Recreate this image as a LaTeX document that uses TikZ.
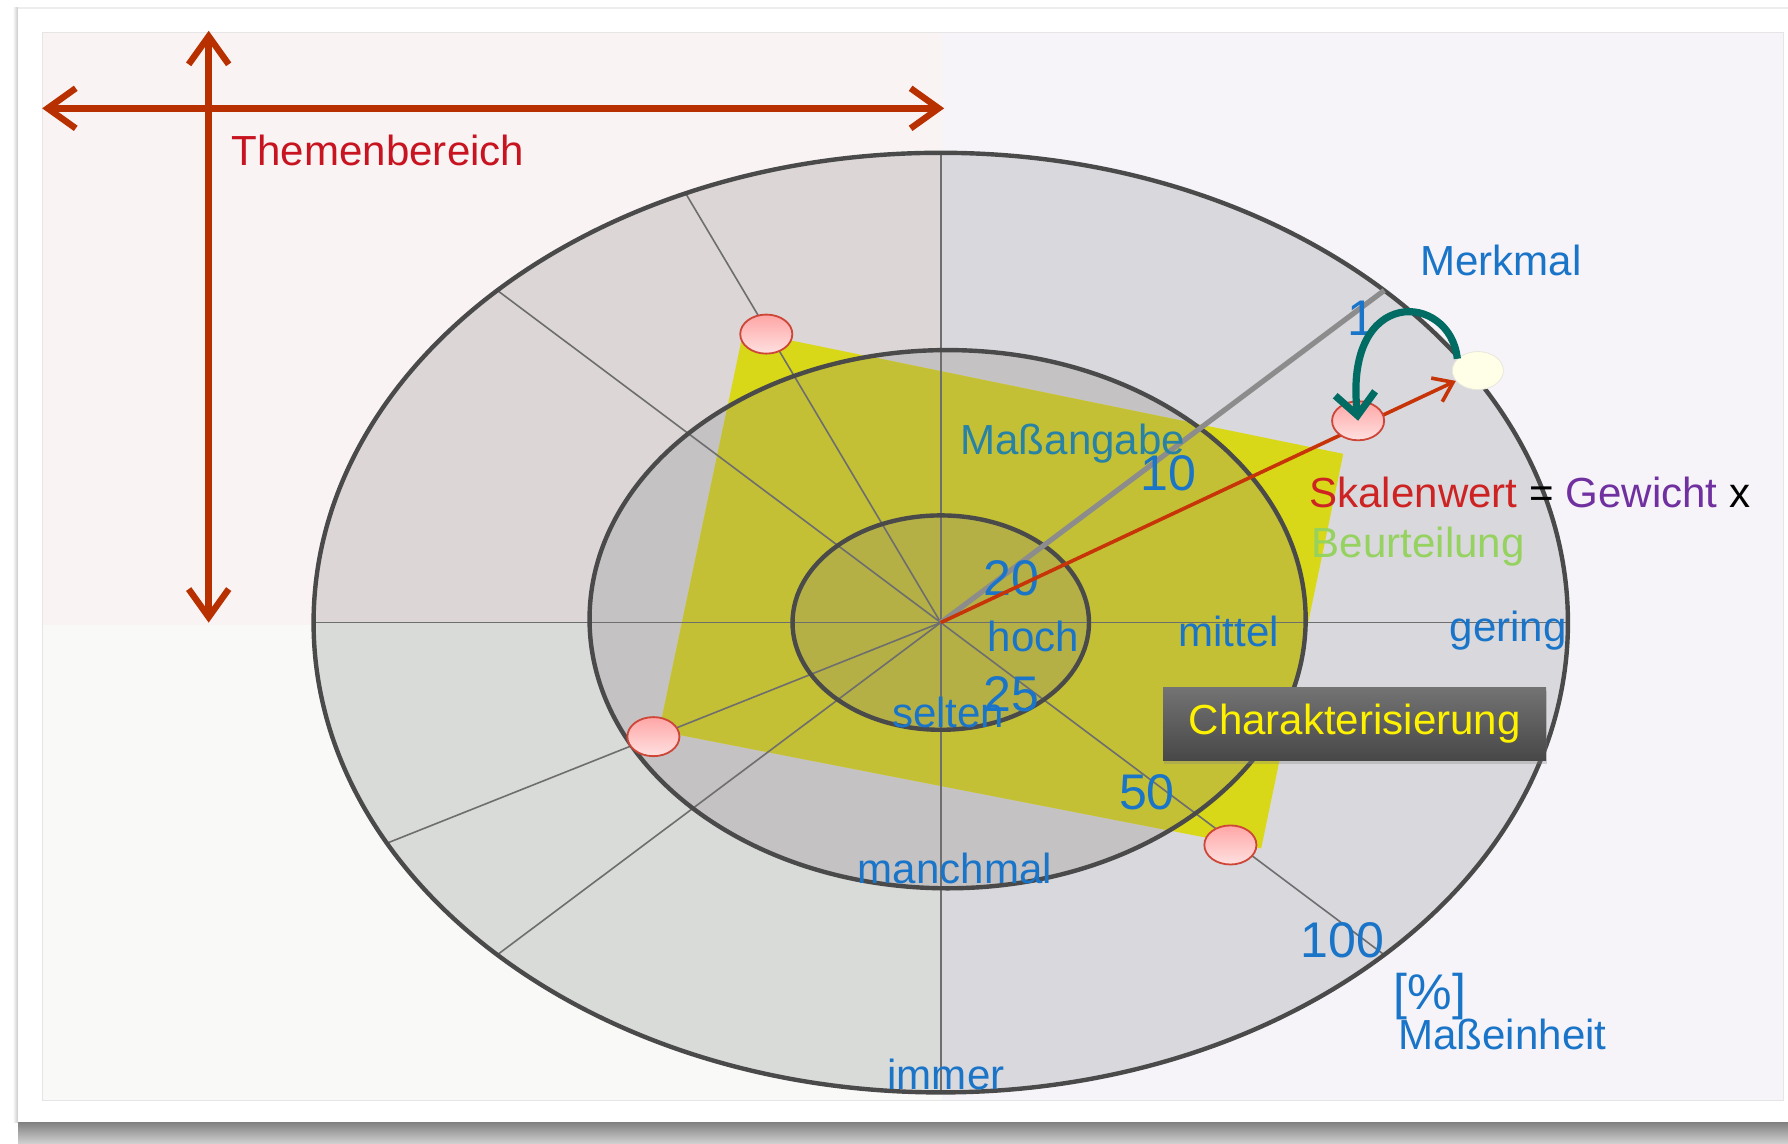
\documentclass[tikz,border=0pt]{standalone}
\usepackage{fontspec}
\setmainfont{Liberation Sans}
\usetikzlibrary{arrows.meta}
\usetikzlibrary{calc}
\usetikzlibrary{shapes.geometric}
\usetikzlibrary{shadows}
\definecolor{blau}{RGB}{26,117,201}
\definecolor{masblau}{RGB}{40,130,165}
\definecolor{themenrot}{RGB}{200,20,32}
\definecolor{pfeilrot}{RGB}{184,48,0}
\definecolor{wertrot}{RGB}{198,52,8}
\definecolor{skalarot}{RGB}{205,35,35}
\definecolor{lila}{RGB}{112,48,160}
\definecolor{hellgruen}{RGB}{150,210,95}
\definecolor{petrol}{RGB}{0,108,100}
\definecolor{hgrosa}{RGB}{250,243,243}
\definecolor{hglila}{RGB}{246,244,249}
\definecolor{hggruen}{RGB}{249,250,247}
\definecolor{ringrosa}{RGB}{220,214,214}
\definecolor{ringlila}{RGB}{217,216,221}
\definecolor{ringgruen}{RGB}{217,219,216}
\definecolor{ringmitte}{RGB}{196,194,195}
\definecolor{ringinnen}{RGB}{184,182,182}
\definecolor{gelbaussen}{RGB}{217,216,24}
\definecolor{gelbmitte}{RGB}{195,192,53}
\definecolor{gelbinnen}{RGB}{180,176,70}
\definecolor{rand}{RGB}{74,74,74}
\definecolor{speiche}{RGB}{110,110,110}
\definecolor{achse}{RGB}{140,140,140}
\definecolor{rosarand}{RGB}{205,70,55}
\tikzset{lbl/.style = {text = blau, font = \fontsize{21}{25}\selectfont, inner sep = 0, anchor = base west}}
\tikzset{zahl/.style = {lbl, font = \fontsize{25}{30}\selectfont}}
\tikzset{spoke/.style = {draw = speiche, line width = 0.8pt}}
\tikzset{ring/.style = {draw = rand, line width = 2.2pt}}
\tikzset{rosa/.style = {ellipse, draw = rosarand, line width = 0.9pt, top color = red!35, bottom color = red!12, minimum width = 26pt, minimum height = 19.5pt, inner sep = 0}}
\tikzset{dbl/.style = {draw = pfeilrot, line width = 3.2pt, >={Straight Barb[length = 14pt, width = 20pt]}, <->}}

\begin{document}
\begin{tikzpicture}[x = 0.02cm, y = -0.02cm]
      \useasboundingbox (0, 0) rectangle (1568, 1003);
      \fill [white] (0, 0) rectangle (1568, 1003);
      \shade [top color = black!50, bottom color = black!18] (16, 984) rectangle (1568, 1003);
      \shade [left color = white, right color = black!22] (11, 7) rectangle (16, 984);
      \fill [black!7] (16, 6) rectangle (1568, 8);
      \fill [white] (16, 8) rectangle (1568, 984);
      \fill [hgrosa] (37, 28) rectangle (826, 548);
      \fill [hglila] (826, 28) rectangle (1564, 548);
      \fill [hggruen] (37, 548) rectangle (826, 965);
      \fill [hglila] (826, 548) rectangle (1564, 965);
      \draw [black!10] (37, 28) rectangle (1564, 965);

      \coordinate (mitte) at (825, 546);
      \coordinate (q1) at (652, 290);
      \coordinate (q2) at (1178, 398);
      \coordinate (q3) at (1106, 744);
      \coordinate (q4) at (578, 641);

      \begin{scope}
        \clip (mitte) ellipse [x radius = 550, y radius = 412];
        \fill [ringrosa] (270, 130) rectangle (mitte);
        \fill [ringlila] (1380, 130) rectangle (mitte);
        \fill [ringgruen] (270, 965) rectangle (mitte);
        \fill [ringlila] (1380, 965) rectangle (mitte);
      \end{scope}
      \fill [ringmitte] (831, 543) ellipse [x radius = 314, y radius = 236];
      \fill [ringinnen] (mitte) ellipse [x radius = 130, y radius = 94];

      \fill [gelbaussen] (q1) -- (q2) -- (q3) -- (q4) -- cycle;
      \begin{scope}
        \clip (831, 543) ellipse [x radius = 314, y radius = 236];
        \fill [gelbmitte] (q1) -- (q2) -- (q3) -- (q4) -- cycle;
      \end{scope}
      \begin{scope}
        \clip (mitte) ellipse [x radius = 130, y radius = 94];
        \fill [gelbinnen] (q1) -- (q2) -- (q3) -- (q4) -- cycle;
      \end{scope}

      \foreach \t in {0, 90, 114, 135, 180, 208, 225, 270, 315}
        \draw [spoke] (mitte) -- +(-\t:550 and 412);

      \draw [ring] (mitte) ellipse [x radius = 550, y radius = 412];
      \draw [ring] (831, 543) ellipse [x radius = 314, y radius = 236];
      \draw [ring] (mitte) ellipse [x radius = 130, y radius = 94];

      \coordinate (merkmalende) at ($(mitte) + (-45:550 and 412)$);
      \draw [achse, line width = 2.6pt] (mitte) -- (merkmalende);

      \node [lbl, text = masblau] (massangabe) at (842, 399) {Maßangabe};
      \node [zahl] (z1) at (1181, 294) {1};
      \node [zahl] (z10) at (1000, 430) {10};
      \node [zahl] (z20) at (862, 522) {20};
      \node [zahl] (z25) at (862, 624) {25};
      \node [zahl] (z50) at (981, 710) {50};
      \node [zahl] (z100) at (1140, 840) {100};
      \node [zahl] (prozent) at (1222, 885) {[\%]};
      \node [lbl] (masseinheit) at (1226, 920) {Maßeinheit};
      \node [lbl] (merkmal) at (1245, 242) {Merkmal};
      \node [lbl] (hoch) at (866, 571) {hoch};
      \node [lbl] (mittel) at (1033, 567) {mittel};
      \node [lbl] (gering) at (1271, 563) {gering};
      \node [lbl] (selten) at (782, 638) {selten};
      \node [lbl] (manchmal) at (752, 775) {manchmal};
      \node [lbl] (immer) at (778, 955) {immer};
      \node [lbl, text = black] (formel) at (1148, 445)
        {{\color{skalarot}Skalenwert} = {\color{lila}Gewicht} x};
      \node [lbl, text = hellgruen] (beurteilung) at (1150, 489) {Beurteilung};

      \node [ellipse, fill = yellow!10, draw = yellow!30!black!15, minimum width = 25.5pt,
             minimum height = 19pt, inner sep = 0] (gelb) at (1296, 325) {};
      \draw [draw = wertrot, line width = 1.8pt, >={Straight Barb[length = 9pt, width = 13pt]}, ->]
        (mitte) -- (gelb);
      \node [rosa] (r1) at (672, 293) {};
      \node [rosa] (r2) at (1191, 369) {};
      \node [rosa] (r3) at (1079, 741) {};
      \node [rosa] (r4) at (573, 646) {};
      \draw [draw = petrol, line width = 3.6pt, >={Straight Barb[length = 11pt, width = 20pt]}, ->]
        (gelb.150) .. controls (1272, 256) and (1178, 250) .. (r2.center);

      \node [lbl, anchor = center, text = yellow, top color = black!55, bottom color = black!72,
             minimum width = 6.72cm, minimum height = 1.28cm,
             drop shadow = {opacity = 0.3, shadow xshift = 0.4pt, shadow yshift = -1.6pt}]
        (charakter) at (1188, 635) {Charakterisierung};

      \coordinate (links) at (37, 95);
      \coordinate (rechts) at (828, 95);
      \coordinate (oben) at (183, 27);
      \coordinate (unten) at (183, 546);
      \draw [dbl] (links) -- (rechts);
      \draw [dbl] (oben) -- (unten);
      \node [lbl, text = themenrot] (themen) at (203, 145) {Themenbereich};
    \end{tikzpicture}
\end{document}
